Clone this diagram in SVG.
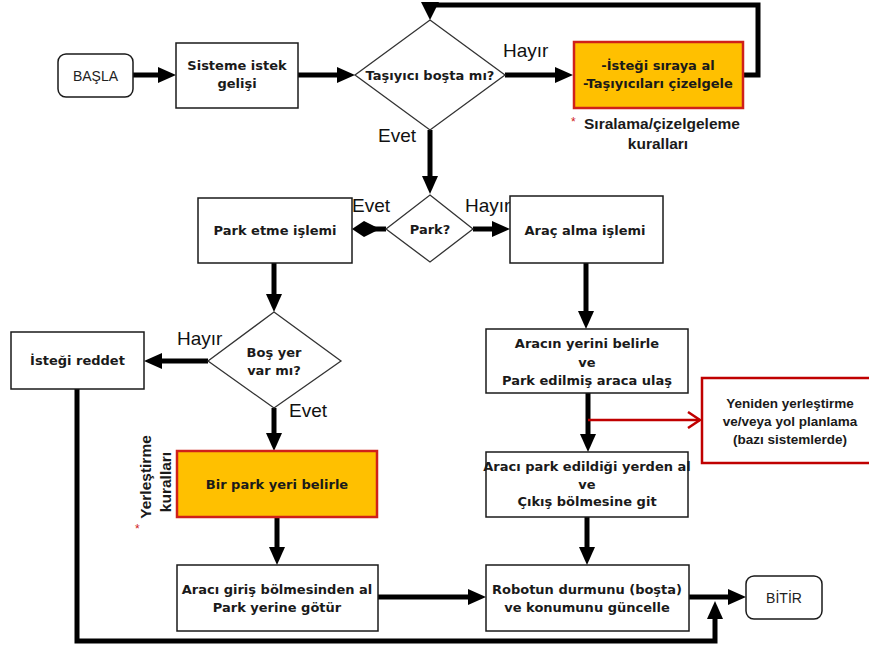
<svg xmlns="http://www.w3.org/2000/svg" width="869" height="648" viewBox="0 0 869 648">
<style>
.box{fill:#fff;stroke:#1a1a1a;stroke-width:1.5}
.term{fill:#fff;stroke:#1a1a1a;stroke-width:1.5}
.dia{fill:#fff;stroke:#333;stroke-width:1.3}
.hot{fill:#FFC000;stroke:#D0201A;stroke-width:2.5}
.redbox{fill:#fff;stroke:#C00000;stroke-width:2.5}
.t{font-family:"DejaVu Sans","Liberation Sans",sans-serif;font-weight:bold;font-size:13px;fill:#1a1a1a;text-anchor:middle}
.tr{font-family:"Liberation Sans",Arial,sans-serif;font-weight:bold;font-size:13.5px;fill:#1a1a1a;text-anchor:middle}
.term-t{font-family:"Liberation Sans",Arial,sans-serif;font-size:14px;fill:#222;text-anchor:middle}
.lbl{font-family:"Liberation Sans",Arial,sans-serif;font-size:19px;fill:#111}
.note{font-family:"Liberation Sans",Arial,sans-serif;font-weight:bold;font-size:15.5px;fill:#1a1a1a}
.ast{font-family:"Liberation Sans",Arial,sans-serif;font-size:12px;fill:#D0201A}
.c{fill:none;stroke:#000;stroke-width:5}
.cr{fill:none;stroke:#C00000;stroke-width:2.5}
</style>
<defs>
<marker id="ah" markerUnits="userSpaceOnUse" markerWidth="18" markerHeight="16" refX="8" refY="8" orient="auto">
<path d="M0,0 L18,8 L0,16 Z" fill="#000"/>
</marker>
<marker id="ahr" markerUnits="userSpaceOnUse" markerWidth="16" markerHeight="18" refX="13" refY="9" orient="auto">
<path d="M1,1 L13,9 L1,17" fill="none" stroke="#C00000" stroke-width="2.5"/>
</marker>
</defs>

<g id="connectors">
<path class="c" d="M133,75 H166" marker-end="url(#ah)"/>
<path class="c" d="M298,75 H345" marker-end="url(#ah)"/>
<path class="c" d="M505,75 H563" marker-end="url(#ah)"/>
<path class="c" d="M743,75 H758 V5 H430 V8"/>
<polygon points="421,2 439,2 430,20" fill="#000"/>
<path class="c" d="M430,130 V184" marker-end="url(#ah)"/>
<path class="c" d="M386,229 H372"/>
<polygon points="352,229 364,221 378,228 386,228 386,230 378,230 364,237" fill="#000"/>
<path class="c" d="M473,229 H500" marker-end="url(#ah)"/>
<path class="c" d="M274,263 V302" marker-end="url(#ah)"/>
<path class="c" d="M586,263 V319" marker-end="url(#ah)"/>
<path class="c" d="M208,361 H154" marker-end="url(#ah)"/>
<path class="c" d="M274,408 V441" marker-end="url(#ah)"/>
<path class="c" d="M588,393 V442" marker-end="url(#ah)"/>
<path class="cr" d="M588,420 H700" marker-end="url(#ahr)"/>
<path class="c" d="M277,517 V555" marker-end="url(#ah)"/>
<path class="c" d="M587,517 V555" marker-end="url(#ah)"/>
<path class="c" d="M378,597 H476" marker-end="url(#ah)"/>
<path class="c" d="M689,597 H736" marker-end="url(#ah)"/>
<path class="c" d="M77,389 V641 H715 V611" marker-end="url(#ah)"/>
<text class="lbl" x="503" y="57">Hayır</text>
<text class="lbl" x="378" y="142">Evet</text>
<text class="lbl" x="352" y="212">Evet</text>
<text class="lbl" x="465" y="212">Hayır</text>
<text class="lbl" x="177" y="345">Hayır</text>
<text class="lbl" x="289" y="417">Evet</text>
</g>

<g id="basla">
<rect class="term" x="58" y="54" width="75" height="43" rx="8"/>
<text class="term-t" x="95.5" y="80.5">BAŞLA</text>
</g>

<g id="istek">
<rect class="box" x="176" y="43" width="122" height="65"/>
<text class="t" x="237" y="70">Sisteme istek</text>
<text class="t" x="237" y="88">gelişi</text>
</g>

<g id="tasiyici">
<polygon class="dia" points="430,20 505,75 430,130 355,75"/>
<text class="t" x="430" y="79.5">Taşıyıcı boşta mı?</text>
</g>

<g id="sirala">
<rect class="hot" x="574" y="42" width="169" height="66"/>
<text class="t" x="658" y="70">-İsteği sıraya al</text>
<text class="t" x="658" y="88">-Taşıyıcıları çizelgele</text>
<text class="ast" x="571" y="126">*</text>
<text class="note" x="584" y="129">Sıralama/çizelgeleme</text>
<text class="note" x="658" y="149" text-anchor="middle">kuralları</text>
</g>

<g id="park">
<polygon class="dia" points="430,195 473,229 430,262 386,229"/>
<text class="t" x="430" y="233.5">Park?</text>
</g>

<g id="parketme">
<rect class="box" x="198" y="198" width="154" height="65"/>
<text class="t" x="275" y="234.5">Park etme işlemi</text>
</g>

<g id="aracalma">
<rect class="box" x="510" y="196" width="153" height="67"/>
<text class="t" x="585" y="234.5">Araç alma işlemi</text>
</g>

<g id="bosyer">
<polygon class="dia" points="274,312 341,361 274,408 208,361"/>
<text class="t" x="274" y="356.5">Boş yer</text>
<text class="t" x="274" y="374.5">var mı?</text>
</g>

<g id="reddet">
<rect class="box" x="11" y="332" width="133" height="57"/>
<text class="t" x="77.5" y="365">İsteği reddet</text>
</g>

<g id="parkyeri">
<rect class="hot" x="177" y="451" width="200" height="66"/>
<text class="t" x="277" y="488.5">Bir park yeri belirle</text>
<text class="note" transform="translate(151,477) rotate(-90)" text-anchor="middle">Yerleştirme</text>
<text class="note" transform="translate(171,482) rotate(-90)" text-anchor="middle">kuralları</text>
<text class="ast" x="135" y="533">*</text>
</g>

<g id="aracinyeri">
<rect class="box" x="486" y="329" width="202" height="64"/>
<text class="t" x="587" y="347.5">Aracın yerini belirle</text>
<text class="t" x="587" y="366.5">ve</text>
<text class="t" x="587" y="384.5">Park edilmiş araca ulaş</text>
</g>

<g id="yeniden">
<rect class="redbox" x="702" y="378" width="172" height="85"/>
<text class="tr" x="790" y="408">Yeniden yerleştirme</text>
<text class="tr" x="790" y="425.5">ve/veya yol planlama</text>
<text class="tr" x="790" y="444">(bazı sistemlerde)</text>
</g>

<g id="aracipark">
<rect class="box" x="486" y="452" width="202" height="65"/>
<text class="t" x="587" y="470.5">Aracı park edildiği yerden al</text>
<text class="t" x="587" y="489">ve</text>
<text class="t" x="587" y="506">Çıkış bölmesine git</text>
</g>

<g id="giris">
<rect class="box" x="177" y="565" width="201" height="66"/>
<text class="t" x="277" y="593.5">Aracı giriş bölmesinden al</text>
<text class="t" x="277" y="611.5">Park yerine götür</text>
</g>

<g id="robot">
<rect class="box" x="486" y="565" width="203" height="66"/>
<text class="t" x="587" y="593.5">Robotun durmunu (boşta)</text>
<text class="t" x="587" y="611.5">ve konumunu güncelle</text>
</g>

<g id="bitir">
<rect class="term" x="746" y="576" width="76" height="43" rx="8"/>
<text class="term-t" x="784" y="602.5">BİTİR</text>
</g>
</svg>
